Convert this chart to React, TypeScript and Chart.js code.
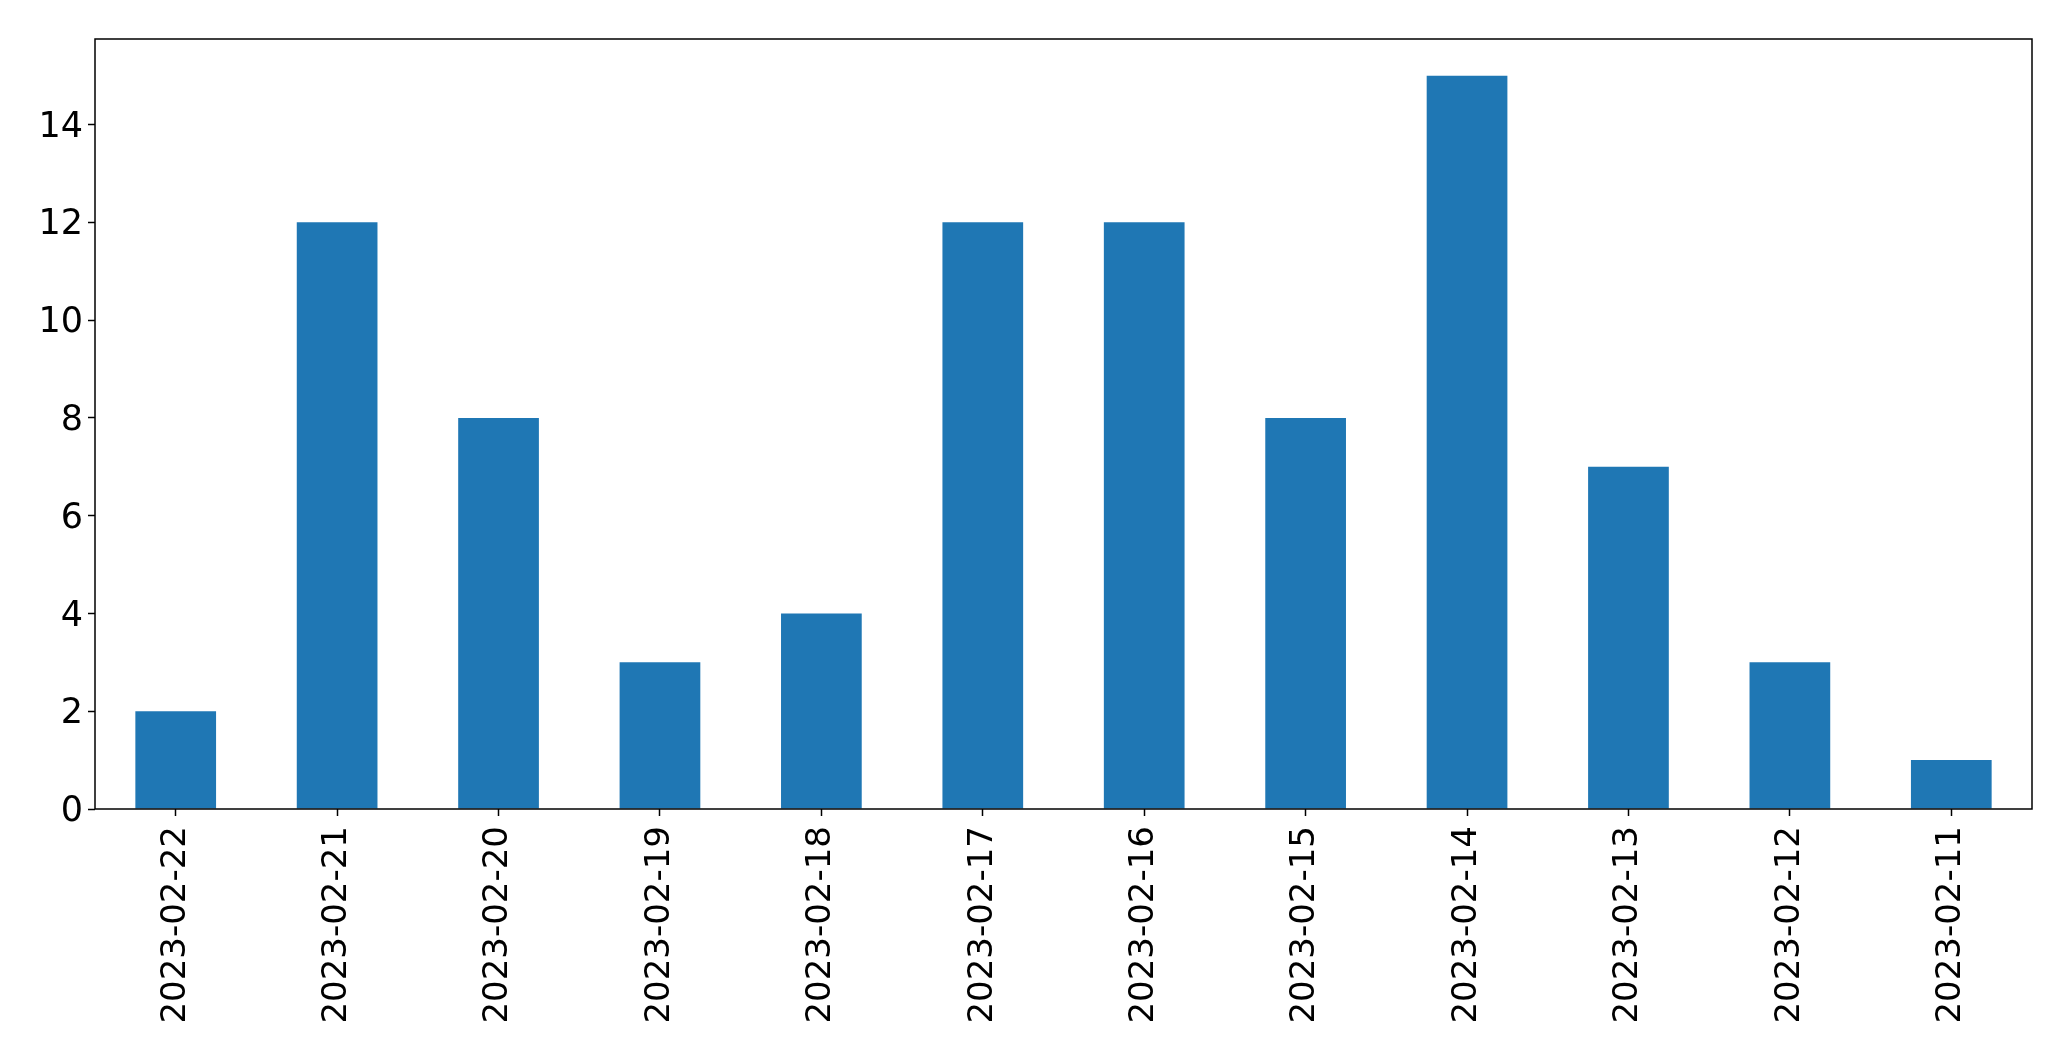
import React, { useEffect, useRef } from "react";
import { Chart, registerables } from "chart.js";

Chart.register(...registerables);

const categories = [
  "2023-02-22", "2023-02-21", "2023-02-20", "2023-02-19", "2023-02-18", "2023-02-17",
  "2023-02-16", "2023-02-15", "2023-02-14", "2023-02-13", "2023-02-12", "2023-02-11",
];
const counts = [2, 12, 8, 3, 4, 12, 12, 8, 15, 7, 3, 1];
const yTickValues = [0, 2, 4, 6, 8, 10, 12, 14];
const yMax = 15.75;

const FONT = "'DejaVu Sans', 'Liberation Sans', sans-serif";

const frame = {
  id: "frame",
  afterDraw(chart: any) {
    const { ctx, chartArea } = chart;
    ctx.save();
    ctx.strokeStyle = "#000";
    ctx.lineWidth = 1.5;
    ctx.strokeRect(chartArea.left, chartArea.top, chartArea.right - chartArea.left, chartArea.bottom - chartArea.top);
    ctx.restore();
  },
};

export default function App() {
  const ref = useRef<HTMLCanvasElement>(null);
  useEffect(() => {
    if (!ref.current) return;
    const chart = new Chart(ref.current, {
      type: "bar",
      data: {
        labels: categories,
        datasets: [
          {
            data: counts,
            backgroundColor: "#1f77b4",
            borderWidth: 0,
            categoryPercentage: 1,
            barPercentage: 0.5,
          },
        ],
      },
      options: {
        animation: false,
        responsive: false,
        maintainAspectRatio: false,
        layout: { padding: { top: 39, right: 39, left: 0, bottom: 0 } },
        plugins: { legend: { display: false }, tooltip: { enabled: false } },
        scales: {
          x: {
            offset: true,
            grid: { offset: false, drawOnChartArea: false, drawTicks: true, tickLength: 7, tickColor: "#000", tickWidth: 1.5 },
            border: { display: false },
            ticks: {
              color: "#000",
              font: { family: FONT, size: 34 },
              minRotation: 90,
              maxRotation: 90,
              padding: 10,
              autoSkip: false,
            },
            afterFit(scale: any) {
              scale.height = 252;
            },
          },
          y: {
            min: 0,
            max: yMax,
            grid: { drawOnChartArea: false, drawTicks: true, tickLength: 7, tickColor: "#000", tickWidth: 1.5 },
            border: { display: false },
            ticks: {
              color: "#000",
              font: { family: FONT, size: 35 },
              padding: 5,
              labelOffset: 3,
            },
            afterBuildTicks(scale: any) {
              scale.ticks = yTickValues.map((v) => ({ value: v }));
            },
            afterFit(scale: any) {
              scale.width = 95;
            },
          },
        },
      },
      plugins: [frame],
    });
    return () => chart.destroy();
  }, []);
  return (
    <div style={{ position: "fixed", left: 0, top: 0, width: 2071, height: 1061, background: "#fff" }}>
      <canvas ref={ref} width={2071} height={1061} style={{ width: 2071, height: 1061 }} />
    </div>
  );
}
